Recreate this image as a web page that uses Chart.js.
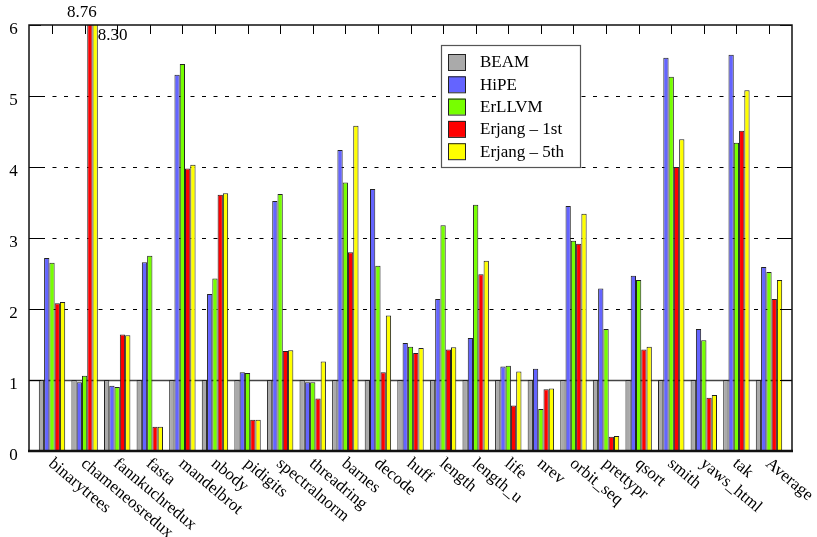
<!DOCTYPE html>
<html>
<head>
<meta charset="utf-8">
<script src="https://cdn.jsdelivr.net/npm/chart.js@4.4.1/dist/chart.umd.min.js"></script>
<style>
  html, body { margin: 0; padding: 0; background: #fff; }
  #wrap { width: 817px; height: 537px; }
</style>
</head>
<body>
<div id="wrap"><canvas id="c"></canvas></div>
<script>
// Speedup relative to BEAM, per benchmark
const benchmarks = ['binarytrees', 'chameneosredux', 'fannkuchredux', 'fasta', 'mandelbrot', 'nbody',
  'pidigits', 'spectralnorm', 'threadring', 'barnes', 'decode', 'huff', 'length', 'length_u', 'life',
  'nrev', 'orbit_seq', 'prettypr', 'qsort', 'smith', 'yaws_html', 'tak', 'Average'];
const beam      = [1, 1, 1, 1, 1, 1, 1, 1, 1, 1, 1, 1, 1, 1, 1, 1, 1, 1, 1, 1, 1, 1, 1];
const hipe      = [2.72, 0.97, 0.92, 2.66, 5.30, 2.21, 1.11, 3.52, 0.97, 4.24, 3.69, 1.52, 2.14, 1.59, 1.19, 1.16, 3.45, 2.29, 2.47, 5.54, 1.72, 5.58, 2.59];
const erllvm    = [2.65, 1.06, 0.90, 2.75, 5.45, 2.43, 1.10, 3.62, 0.97, 3.78, 2.61, 1.47, 3.18, 3.47, 1.20, 0.59, 2.96, 1.72, 2.41, 5.27, 1.56, 4.34, 2.52];
const erjang1st = [2.08, 8.76, 1.64, 0.34, 3.98, 3.61, 0.44, 1.41, 0.74, 2.80, 1.11, 1.38, 1.43, 2.49, 0.64, 0.87, 2.92, 0.20, 1.43, 4.00, 0.75, 4.51, 2.14];
const erjang5th = [2.10, 8.30, 1.63, 0.34, 4.03, 3.63, 0.44, 1.42, 1.26, 4.58, 1.91, 1.45, 1.46, 2.68, 1.12, 0.88, 3.34, 0.21, 1.47, 4.39, 0.79, 5.08, 2.41];
const yTicks = [0, 1, 2, 3, 4, 5, 6];
const yMax = 6;

const seriesNames  = ['BEAM', 'HiPE', 'ErLLVM', 'Erjang \u2013 1st', 'Erjang \u2013 5th'];
const seriesValues = [beam, hipe, erllvm, erjang1st, erjang5th];
const seriesColors = ['#aaaaaa', '#6464ff', '#77ff00', '#ff0000', '#ffff00'];

const FONT = '"Liberation Serif", "DejaVu Serif", serif';

// Frame, grid, tick marks and labels drawn in gnuplot style
const framePlugin = {
  id: 'frame',
  beforeDatasetsDraw(chart) {
    const { ctx, chartArea: a, scales: { x, y } } = chart;
    ctx.save();
    ctx.strokeStyle = '#000';
    ctx.lineWidth = 1;
    ctx.setLineDash([4, 7.5]);
    yTicks.forEach(t => {
      if (t <= 1 || t >= yMax) return;
      const py = Math.round(y.getPixelForValue(t)) + 0.5;
      ctx.beginPath();
      ctx.moveTo(a.left + 12, py);
      ctx.lineTo(a.right - 12, py);
      ctx.stroke();
    });
    ctx.setLineDash([]);
    // baseline reference at 1.0
    const p1 = Math.round(y.getPixelForValue(1)) + 0.5;
    ctx.strokeStyle = '#444';
    ctx.lineWidth = 1.5;
    ctx.beginPath();
    ctx.moveTo(a.left, p1);
    ctx.lineTo(a.right, p1);
    ctx.stroke();
    ctx.restore();
  },
  afterDatasetsDraw(chart) {
    const { ctx, chartArea: a, scales: { x, y } } = chart;
    ctx.save();
    // y tick marks on both sides
    ctx.strokeStyle = '#000';
    ctx.lineWidth = 1;
    yTicks.forEach(t => {
      const py = Math.round(y.getPixelForValue(t)) + 0.5;
      ctx.beginPath();
      ctx.moveTo(a.left, py); ctx.lineTo(a.left + 12, py);
      ctx.moveTo(a.right - 12, py); ctx.lineTo(a.right, py);
      ctx.stroke();
    });
    // x tick marks along the top
    benchmarks.forEach((b, i) => {
      const px = Math.round(x.getPixelForValue(i)) + 0.5;
      ctx.beginPath();
      ctx.moveTo(px, a.top); ctx.lineTo(px, a.top + 9);
      ctx.stroke();
    });
    // border
    ctx.strokeStyle = '#111';
    ctx.lineWidth = 1.5;
    ctx.beginPath();
    ctx.moveTo(a.left, a.bottom);
    ctx.lineTo(a.left, a.top);
    ctx.lineTo(a.right, a.top);
    ctx.lineTo(a.right, a.bottom);
    ctx.stroke();
    ctx.lineWidth = 2.5;
    ctx.beginPath();
    ctx.moveTo(a.left - 1, a.bottom);
    ctx.lineTo(a.right + 1, a.bottom);
    ctx.stroke();

    ctx.fillStyle = '#000';
    ctx.font = '17px ' + FONT;
    // y tick labels
    ctx.textAlign = 'center';
    ctx.textBaseline = 'middle';
    yTicks.forEach(t => {
      ctx.fillText(String(t), 13.5, y.getPixelForValue(t) + 5);
    });
    // rotated category labels
    const ang = 40 * Math.PI / 180;
    ctx.textAlign = 'left';
    ctx.textBaseline = 'top';
    benchmarks.forEach((b, i) => {
      const px = x.getPixelForValue(i);
      ctx.save();
      ctx.translate(px + 4, a.bottom + 4);
      ctx.rotate(ang);
      ctx.fillText(b, 0, 0);
      ctx.restore();
    });

    // values of bars cut off by the top of the axis
    let clipped = 0;
    chart.data.datasets.forEach((ds, di) => {
      const meta = chart.getDatasetMeta(di);
      ds.data.forEach((pt, i) => {
        if (pt.y <= yMax) return;
        const bar = meta.data[i];
        const txt = pt.y.toFixed(2);
        if (clipped === 0) {
          ctx.textAlign = 'center';
          ctx.textBaseline = 'middle';
          ctx.fillText(txt, bar.x - 8, a.top - 12);
        } else {
          ctx.textAlign = 'left';
          ctx.textBaseline = 'middle';
          ctx.fillText(txt, bar.x + bar.width / 2, a.top + 11);
        }
        clipped++;
      });
    });

    // legend box
    const lx = 441, ly = 45, lw = 139, lh = 122;
    ctx.fillStyle = '#fff';
    ctx.fillRect(lx, ly, lw, lh);
    ctx.strokeStyle = '#555';
    ctx.lineWidth = 1.2;
    ctx.strokeRect(lx + 0.5, ly + 0.5, lw, lh);
    ctx.textAlign = 'left';
    ctx.textBaseline = 'middle';
    chart.data.datasets.forEach((ds, di) => {
      const cy = 62 + di * 22.3;
      ctx.fillStyle = ds.backgroundColor;
      ctx.fillRect(448, cy - 8, 17, 16);
      ctx.strokeStyle = '#222';
      ctx.lineWidth = 1;
      ctx.strokeRect(448.5, cy - 7.5, 17, 16);
      ctx.fillStyle = '#000';
      ctx.fillText(ds.label, 480, cy + 1);
    });
    ctx.restore();
  }
};

const datasets = seriesNames.map((name, s) => ({
  label: name,
  data: seriesValues[s].map((v, i) => ({ x: i, y: v })),
  backgroundColor: seriesColors[s],
  borderColor: '#222',
  borderWidth: 1,
  inflateAmount: 0,
  categoryPercentage: 0.81,
  barPercentage: 1.0,
  clip: 0
}));

new Chart(document.getElementById('c'), {
  type: 'bar',
  data: { datasets },
  options: {
    responsive: true,
    maintainAspectRatio: false,
    animation: false,
    layout: { padding: { left: 29, top: 25, right: 25, bottom: 86 } },
    plugins: { legend: { display: false }, tooltip: { enabled: false } },
    scales: {
      x: { type: 'linear', min: -0.706, max: 22.706, offset: false, display: false },
      y: { type: 'linear', min: 0, max: yMax, display: false }
    }
  },
  plugins: [framePlugin]
});
</script>
</body>
</html>
